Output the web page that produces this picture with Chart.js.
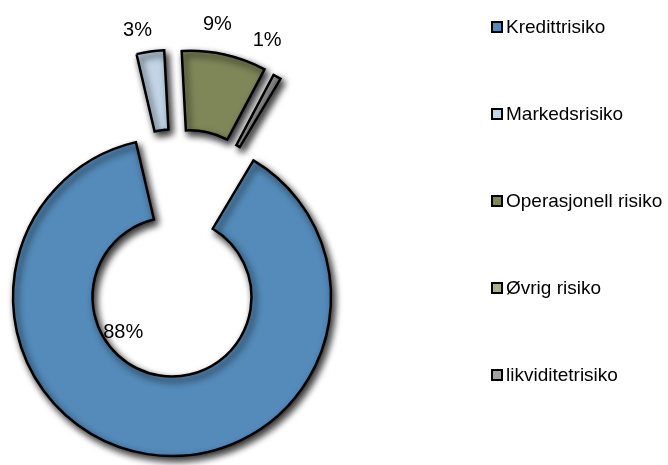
<!DOCTYPE html>
<html>
<head>
    <meta charset="utf-8">
    <title>Risikofordeling</title>
    <script src="https://cdn.jsdelivr.net/npm/chart.js"></script>
    <style>
        body { margin: 0; background: #fff; }
        #wrap { position: relative; width: 668px; height: 465px; overflow: hidden; }
        #legend { position: absolute; left: 491px; top: 0; font-family: "Liberation Sans", Arial, sans-serif; font-size: 19px; color: #000; }
        .item { position: absolute; left: 0; height: 22px; line-height: 22px; white-space: nowrap; display: flex; align-items: center; }
        .box { display: inline-block; width: 8px; height: 8px; border: 2px solid #000; margin-right: 3px; }
    </style>
</head>
<body>
    <div id="wrap">
        <canvas id="riskChart" width="668" height="465"></canvas>
        <div id="legend"></div>
    </div>
    <script>
        // data (share of total, in percent)
        const categories = ['Kredittrisiko', 'Markedsrisiko', 'Operasjonell risiko', 'Øvrig risiko', 'likviditetrisiko'];
        const shares = [87.8, 2.8, 8.6, 0, 0.8];
        const colors = ['#548bba', '#c2d5e7', '#7f8759', '#a9b383', '#a3a3a3'];

        // how far each slice is pulled out (px, and a turn of the direction in degrees), and where its label sits
        const explode = [0, 88, 89, 0, 86];
        const explodeTurn = [0, 8.5, -0.7, 0, -11];
        const labelTurn = [45, 0.7, -3, 0, -9];      // degrees added to slice mid angle
        const labelDist = [0.38, 1.69, 1.74, 0, 1.72]; // times outer radius, from the centre

        // legend as plain html
        const legend = document.getElementById('legend');
        categories.forEach((name, i) => {
            const item = document.createElement('div');
            item.className = 'item';
            item.style.top = (27 + i * 87 - 11) + 'px';
            item.innerHTML = '<span class="box" style="background:' + colors[i] + '"></span>' + name;
            legend.appendChild(item);
        });

        const rad = d => d * Math.PI / 180;

        const explodePlugin = {
            id: 'explode',
            beforeDatasetsDraw(chart) {
                const ctx = chart.ctx;
                const meta = chart.getDatasetMeta(0);
                const total = shares.reduce((a, b) => a + b, 0);
                meta.data.forEach((arc, i) => {
                    if (!shares[i]) return;
                    const dir = (arc.startAngle + arc.endAngle) / 2 + rad(explodeTurn[i]);
                    ctx.save();
                    ctx.translate(Math.cos(dir) * explode[i], Math.sin(dir) * explode[i]);
                    ctx.shadowColor = 'rgba(0,0,0,0.85)';
                    ctx.shadowBlur = 7;
                    ctx.shadowOffsetX = 3;
                    ctx.shadowOffsetY = 4;
                    arc.draw(ctx);
                    ctx.restore();
                });
                // percent labels
                ctx.save();
                ctx.font = '20px "Liberation Sans", Arial, sans-serif';
                ctx.fillStyle = '#000';
                ctx.textAlign = 'center';
                ctx.textBaseline = 'middle';
                meta.data.forEach((arc, i) => {
                    if (!shares[i]) return;
                    const mid = (arc.startAngle + arc.endAngle) / 2 + rad(labelTurn[i]);
                    const r = arc.outerRadius * labelDist[i];
                    const txt = Math.round(shares[i] / total * 100) + '%';
                    ctx.fillText(txt, arc.x + Math.cos(mid) * r, arc.y + Math.sin(mid) * r);
                });
                ctx.restore();
                return false;
            }
        };

        const ctx = document.getElementById('riskChart').getContext('2d');
        new Chart(ctx, {
            type: 'doughnut',
            data: {
                labels: categories,
                datasets: [{
                    data: shares,
                    backgroundColor: colors,
                    borderColor: '#000',
                    borderWidth: 2.5,
                    borderJoinStyle: 'miter'
                }]
            },
            options: {
                responsive: false,
                animation: false,
                rotation: 30.8,
                radius: 159,
                cutout: '50%',
                layout: { padding: { left: 0, right: 324, top: 140, bottom: 11 } },
                plugins: {
                    legend: { display: false },
                    tooltip: { enabled: false }
                }
            },
            plugins: [explodePlugin]
        });
    </script>
</body>
</html>
